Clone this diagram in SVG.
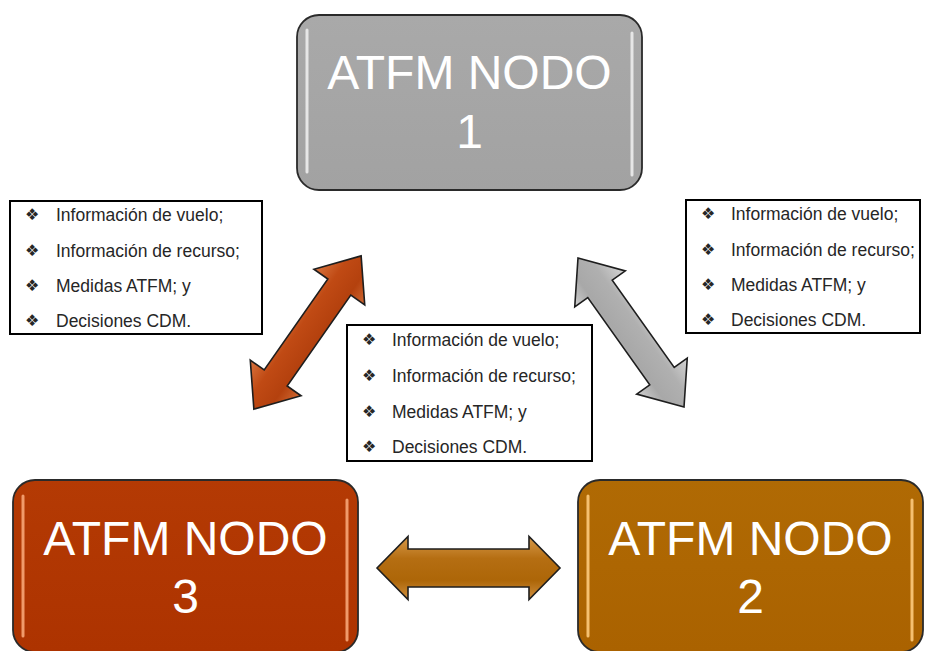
<svg xmlns="http://www.w3.org/2000/svg" width="927" height="651" viewBox="0 0 927 651">
<defs>
<linearGradient id="gGray" x1="0" y1="0" x2="0" y2="1"><stop offset="0" stop-color="#a9a9a9"/><stop offset="1" stop-color="#a2a2a2"/></linearGradient>
<linearGradient id="gRed" x1="0" y1="0" x2="0" y2="1"><stop offset="0" stop-color="#b43a04"/><stop offset="1" stop-color="#ad3300"/></linearGradient>
<linearGradient id="gOr" x1="0" y1="0" x2="0" y2="1"><stop offset="0" stop-color="#b06a04"/><stop offset="1" stop-color="#aa6200"/></linearGradient>
<linearGradient id="aRed" x1="0" y1="0" x2="0" y2="1"><stop offset="0" stop-color="#d9753f"/><stop offset="0.35" stop-color="#c04a14"/><stop offset="0.7" stop-color="#b4410e"/><stop offset="1" stop-color="#d06a34"/></linearGradient>
<linearGradient id="aGray" x1="0" y1="0" x2="0" y2="1"><stop offset="0" stop-color="#d4d4d4"/><stop offset="0.35" stop-color="#b0b0b0"/><stop offset="0.7" stop-color="#a8a8a8"/><stop offset="1" stop-color="#cfcfcf"/></linearGradient>
<linearGradient id="aOr" x1="0" y1="0" x2="0" y2="1"><stop offset="0" stop-color="#d89a4a"/><stop offset="0.35" stop-color="#b56e12"/><stop offset="0.7" stop-color="#ad6608"/><stop offset="1" stop-color="#d09040"/></linearGradient>
</defs>
<style>
.node{stroke:#2a2a2a;stroke-width:1.8}
.hl{stroke-width:3;stroke-linecap:round;fill:none}
.title{font-family:"Liberation Sans",Arial,sans-serif;font-size:48px;fill:#ffffff;text-anchor:middle}
.box{fill:#ffffff;stroke:#000000;stroke-width:2}
.item{font-family:"Liberation Sans",Arial,sans-serif;font-size:17.5px;fill:#262626}
.bul{font-family:"DejaVu Sans",sans-serif;font-size:16px;fill:#262626}
.arrow{stroke:#1e1e1e;stroke-width:1.6;stroke-linejoin:miter}
</style>
<g id="node1">
<rect class="node" x="297" y="15" width="345" height="175" rx="22" fill="url(#gGray)"/>
<line class="hl" x1="307" y1="30" x2="307" y2="172" stroke="#e6e6e6"/>
<line class="hl" x1="632" y1="33" x2="632" y2="175" stroke="#e6e6e6"/>
<text class="title" x="469.5" y="89">ATFM NODO</text>
<text class="title" x="469.5" y="148">1</text>
</g>
<g id="node3">
<rect class="node" x="13" y="480" width="345" height="172" rx="22" fill="url(#gRed)"/>
<line class="hl" x1="23" y1="496" x2="23" y2="636" stroke="#f09a6a"/>
<line class="hl" x1="347" y1="500" x2="347" y2="640" stroke="#f09a6a"/>
<text class="title" x="185.5" y="555">ATFM NODO</text>
<text class="title" x="185.5" y="613">3</text>
</g>
<g id="node2">
<rect class="node" x="578" y="480" width="345" height="172" rx="22" fill="url(#gOr)"/>
<line class="hl" x1="588" y1="496" x2="588" y2="636" stroke="#f5c070"/>
<line class="hl" x1="912" y1="500" x2="912" y2="640" stroke="#f5c070"/>
<text class="title" x="750.5" y="555">ATFM NODO</text>
<text class="title" x="750.5" y="613">2</text>
</g>
<g id="connectors">
<polygon class="arrow" fill="url(#aRed)" transform="translate(307.5,332.5) rotate(-55)" points="-93.5,0 -55.5,-31 -55.5,-14 55.5,-14 55.5,-31 93.5,0 55.5,31 55.5,14 -55.5,14 -55.5,31"/>
<polygon class="arrow" fill="url(#aGray)" transform="translate(631,332.5) rotate(54.6)" points="-91.5,0 -53.5,-31 -53.5,-15 53.5,-15 53.5,-31 91.5,0 53.5,31 53.5,15 -53.5,15 -53.5,31"/>
<polygon class="arrow" fill="url(#aOr)" transform="translate(468.5,568)" points="-91.5,0 -60.5,-31.5 -60.5,-19 60.5,-19 60.5,-31.5 91.5,0 60.5,31.5 60.5,19 -60.5,19 -60.5,31.5"/>
</g>
<g id="info-left">
<rect class="box" x="10" y="201" width="252" height="133"/>
<text class="bul" x="25" y="220">❖</text><text class="item" x="56" y="221">Información de vuelo;</text>
<text class="bul" x="25" y="256">❖</text><text class="item" x="56" y="257">Información de recurso;</text>
<text class="bul" x="25" y="291">❖</text><text class="item" x="56" y="292">Medidas ATFM; y</text>
<text class="bul" x="25" y="326">❖</text><text class="item" x="56" y="327">Decisiones CDM.</text>
</g>
<g id="info-right">
<rect class="box" x="686" y="200" width="234" height="133"/>
<text class="bul" x="701" y="219">❖</text><text class="item" x="731" y="220">Información de vuelo;</text>
<text class="bul" x="701" y="255">❖</text><text class="item" x="731" y="256">Información de recurso;</text>
<text class="bul" x="701" y="290">❖</text><text class="item" x="731" y="291">Medidas ATFM; y</text>
<text class="bul" x="701" y="325">❖</text><text class="item" x="731" y="326">Decisiones CDM.</text>
</g>
<g id="info-middle">
<rect class="box" x="347" y="325" width="245" height="136"/>
<text class="bul" x="362" y="345">❖</text><text class="item" x="392" y="346">Información de vuelo;</text>
<text class="bul" x="362" y="381">❖</text><text class="item" x="392" y="382">Información de recurso;</text>
<text class="bul" x="362" y="417">❖</text><text class="item" x="392" y="418">Medidas ATFM; y</text>
<text class="bul" x="362" y="452">❖</text><text class="item" x="392" y="453">Decisiones CDM.</text>
</g>
</svg>
